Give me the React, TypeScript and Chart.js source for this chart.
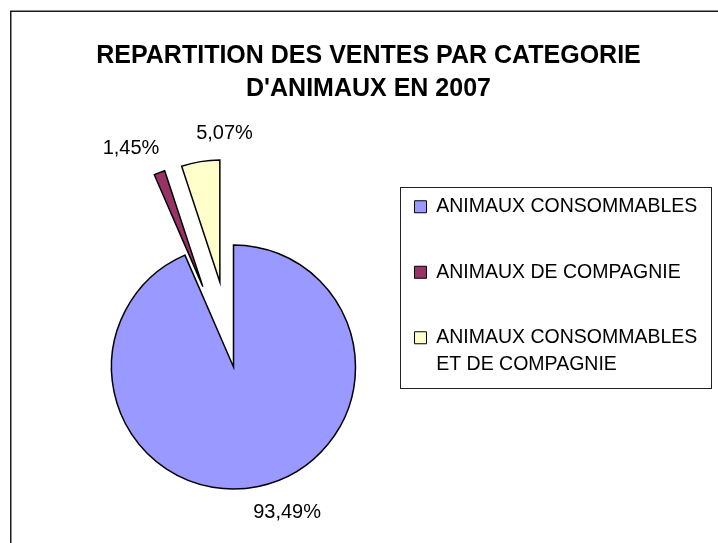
import React, { useEffect, useRef } from 'react';
import { Chart, registerables } from 'chart.js';

Chart.register(...registerables);

// ---- data ----
const titleLines: string[] = ['REPARTITION DES VENTES PAR CATEGORIE', "D'ANIMAUX EN 2007"];
const categories: (string | string[])[] = [
  'ANIMAUX CONSOMMABLES',
  'ANIMAUX DE COMPAGNIE',
  ['ANIMAUX CONSOMMABLES', 'ET DE COMPAGNIE'],
];
const shares: number[] = [93.49, 1.45, 5.07];

// ---- style ----
const sliceColors = ['#9999FF', '#993366', '#FFFFCC'];
const explodeDistance = [0, 86, 86];
const labelNudge: [number, number][] = [
  [28.8, 25.7],
  [-28.4, -24.2],
  [24, -28.6],
];
const FAMILY = '"Liberation Sans", Arial, Helvetica, sans-serif';

const formatPct = (v: number) => v.toFixed(2).replace('.', ',') + '%';

const framePlugin = {
  id: 'frame',
  beforeDraw(chart: any) {
    const ctx = chart.ctx;
    ctx.save();
    ctx.fillStyle = '#ffffff';
    ctx.fillRect(0, 0, chart.width, chart.height);
    ctx.strokeStyle = '#1a1a1a';
    ctx.lineWidth = 1.5;
    ctx.strokeRect(10.75, 11.25, chart.width + 50, chart.height + 50);
    ctx.restore();
  },
};

// widen the legend box (so long labels are not clipped) and the title box (so it is not squeezed)
const boxTweakPlugin = {
  id: 'boxTweak',
  afterLayout(chart: any) {
    const lg = chart.legend;
    if (lg) {
      lg.right = lg.left + 345;
      lg.width = 345;
    }
    const tt = chart.titleBlock;
    if (tt) {
      const cx = (tt.left + tt.right) / 2;
      tt.left = cx - 310;
      tt.right = cx + 310;
      tt.width = 620;
    }
  },
};

const explodePlugin = {
  id: 'explode',
  beforeDatasetsDraw(chart: any) {
    const meta = chart.getDatasetMeta(0);
    meta.data.forEach((arc: any, i: number) => {
      const d = explodeDistance[i] || 0;
      if (!d || arc.__exploded) return;
      const orig = arc.draw.bind(arc);
      arc.draw = (ctx: CanvasRenderingContext2D, area: any) => {
        const mid = (arc.startAngle + arc.endAngle) / 2;
        ctx.save();
        ctx.translate(Math.cos(mid) * d, Math.sin(mid) * d);
        orig(ctx, area);
        ctx.restore();
      };
      arc.__exploded = true;
    });
  },
};

const pctLabelPlugin = {
  id: 'pctLabels',
  afterDatasetsDraw(chart: any) {
    const meta = chart.getDatasetMeta(0);
    const ctx = chart.ctx;
    ctx.save();
    ctx.font = `20px ${FAMILY}`;
    ctx.fillStyle = '#000000';
    ctx.textAlign = 'center';
    ctx.textBaseline = 'middle';
    meta.data.forEach((arc: any, i: number) => {
      const mid = (arc.startAngle + arc.endAngle) / 2;
      const r = arc.outerRadius + (explodeDistance[i] || 0);
      const px = arc.x + Math.cos(mid) * r + labelNudge[i][0];
      const py = arc.y + Math.sin(mid) * r + labelNudge[i][1];
      ctx.fillText(formatPct(shares[i]), px, py);
    });
    ctx.restore();
  },
};

const legendFramePlugin = {
  id: 'legendFrame',
  afterDraw(chart: any) {
    const boxes = chart.legend && chart.legend.legendHitBoxes;
    if (!boxes || !boxes.length) return;
    let l = Infinity, t = Infinity, r = -Infinity, b = -Infinity;
    boxes.forEach((h: any) => {
      l = Math.min(l, h.left);
      t = Math.min(t, h.top);
      r = Math.max(r, h.left + h.width);
      b = Math.max(b, h.top + h.height);
    });
    const x0 = Math.round(l - 14.5) + 0.5;
    const y0 = Math.round(t - 10.3) + 0.5;
    const x1 = Math.round(r + 13.8) + 0.5;
    const y1 = Math.round(b + 6.3) + 0.5;
    const ctx = chart.ctx;
    ctx.save();
    ctx.strokeStyle = '#222222';
    ctx.lineWidth = 1;
    ctx.strokeRect(x0, y0, x1 - x0, y1 - y0);
    ctx.restore();
  },
};

export default function App() {
  const ref = useRef<HTMLCanvasElement | null>(null);

  useEffect(() => {
    if (!ref.current) return;
    const chart = new Chart(ref.current, {
      type: 'pie',
      data: {
        labels: categories as any,
        datasets: [
          {
            data: shares,
            backgroundColor: sliceColors,
            borderColor: '#000000',
            borderWidth: 1.5,
            borderJoinStyle: 'miter',
            hoverOffset: 0,
            radius: 122,
          } as any,
        ],
      },
      options: {
        animation: false,
        responsive: true,
        maintainAspectRatio: false,
        events: [],
        layout: { padding: { left: 98.5, right: 79.5, top: 0, bottom: 0 } },
        plugins: {
          tooltip: { enabled: false },
          title: {
            display: true,
            text: titleLines,
            color: '#000000',
            font: { family: FAMILY, size: 25, weight: 'bold', lineHeight: '33px' },
            padding: { top: 40, bottom: 45 },
          },
          legend: {
            position: 'right',
            align: 'start',
            fullSize: false,
            labels: {
              boxWidth: 12,
              boxHeight: 12,
              padding: 46,
              color: '#000000',
              font: { family: FAMILY, size: 19.5, lineHeight: '27px' },
              generateLabels: (c: any) =>
                (Chart as any).overrides.pie.plugins.legend.labels
                  .generateLabels(c)
                  .map((it: any) => ({ ...it, lineWidth: 1, strokeStyle: '#000000' })),
            },
          },
        },
      } as any,
      plugins: [framePlugin, boxTweakPlugin, explodePlugin, pctLabelPlugin, legendFramePlugin],
    });
    return () => chart.destroy();
  }, []);

  return (
    <div
      style={{
        position: 'fixed',
        left: 0,
        top: 0,
        width: 718,
        height: 543,
        overflow: 'hidden',
        background: '#ffffff',
      }}
    >
      <div style={{ position: 'relative', width: 718, height: 583 }}>
        <canvas ref={ref} />
      </div>
    </div>
  );
}
